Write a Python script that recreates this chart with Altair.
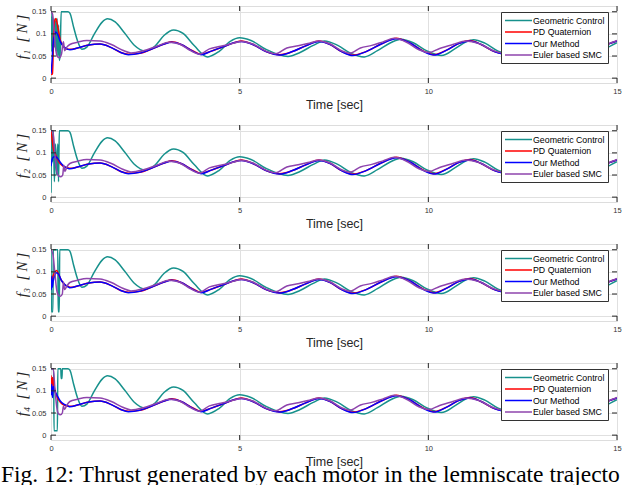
import altair as alt
import pandas as pd

SERIES = ["Geometric Control", "PD Quaternion", "Our Method", "Euler based SMC"]
COLORS = ["#17918C", "#FF0000", "#0000FF", "#8E44AD"]
X_TICKS = [0, 5, 10, 15]
Y_TICKS = [0, 0.05, 0.1, 0.15]
CAPTION = "Fig. 12: Thrust generated by each motor in the lemniscate trajectory."

# ---- steady part (t >= 0.5 s), shared by the four motors ----
geo_t = [0.5, 0.6, 0.7, 0.82, 0.95, 1.15, 1.35, 1.5, 1.7, 1.95, 2.2, 2.5, 2.75, 3.0, 3.25, 3.5, 3.8, 4.15,
         4.45, 4.75, 5.0, 5.3, 5.7, 6.28, 6.6, 6.95, 7.25, 7.6, 7.95, 8.3, 8.65, 9.0, 9.28, 9.6, 9.95,
         10.35, 10.7, 11.0, 11.2, 11.5, 11.85, 12.25, 12.6, 13.0, 13.3, 13.65, 14.0, 14.35, 14.7, 15.0]
geo_v = [0.147, 0.115, 0.085, 0.065, 0.070, 0.100, 0.126, 0.134, 0.127, 0.102, 0.075, 0.061, 0.072, 0.097,
         0.109, 0.101, 0.073, 0.048, 0.060, 0.083, 0.091, 0.085, 0.065, 0.049, 0.058, 0.074, 0.084, 0.074,
         0.056, 0.048, 0.062, 0.080, 0.088, 0.080, 0.062, 0.051, 0.066, 0.082, 0.087, 0.079, 0.061, 0.053,
         0.063, 0.080, 0.086, 0.078, 0.061, 0.054, 0.067, 0.080]

our_t = [0.5, 0.7, 1.0, 1.3, 1.6, 1.85, 2.05, 2.35, 2.7, 3.0, 3.2, 3.45, 3.75, 3.98, 4.25, 4.6, 4.85, 5.05,
         5.35, 5.7, 6.05, 6.4, 6.75, 7.1, 7.4, 7.7, 8.0, 8.35, 8.75, 9.15, 9.5, 9.85, 10.15, 10.5, 10.8,
         11.1, 11.4, 11.75, 12.05, 12.4, 12.8, 13.15, 13.5, 13.85, 14.15, 14.5, 14.8, 15.0]
our_v = [0.064, 0.068, 0.075, 0.077, 0.069, 0.058, 0.053, 0.056, 0.067, 0.077, 0.081, 0.076, 0.061, 0.053,
         0.061, 0.072, 0.080, 0.083, 0.076, 0.060, 0.052, 0.060, 0.073, 0.083, 0.076, 0.060, 0.051, 0.060,
         0.077, 0.089, 0.080, 0.061, 0.052, 0.064, 0.078, 0.084, 0.076, 0.060, 0.054, 0.062, 0.076, 0.084,
         0.076, 0.060, 0.054, 0.066, 0.078, 0.084]

pdq_t = [0.5, 0.7, 1.0, 1.3, 1.6, 1.85, 2.05, 2.35, 2.7, 3.0, 3.2, 3.45, 3.75, 3.98, 4.25, 4.6, 4.85, 5.05,
         5.35, 5.7, 6.05, 6.4, 6.75, 7.1, 7.4, 7.7, 8.0, 8.35, 8.75, 9.15, 9.5, 9.85, 10.15, 10.5, 10.8,
         11.1, 11.4, 11.75, 12.05, 12.4, 12.8, 13.15, 13.5, 13.85, 14.15, 14.5, 14.8, 15.0]
pdq_v = [0.065, 0.068, 0.075, 0.077, 0.069, 0.058, 0.054, 0.056, 0.067, 0.077, 0.082, 0.076, 0.062, 0.054,
         0.061, 0.072, 0.080, 0.084, 0.076, 0.060, 0.053, 0.060, 0.073, 0.084, 0.076, 0.060, 0.052, 0.060,
         0.077, 0.090, 0.080, 0.062, 0.053, 0.064, 0.078, 0.085, 0.076, 0.060, 0.055, 0.062, 0.076, 0.085,
         0.076, 0.060, 0.055, 0.066, 0.078, 0.084]

smc_t = [0.5, 0.7, 0.95, 1.3, 1.6, 1.9, 2.12, 2.45, 2.8, 3.13, 3.4, 3.7, 3.93, 4.2, 4.5, 4.8, 5.05, 5.35,
         5.7, 5.95, 6.25, 6.55, 6.85, 7.1, 7.4, 7.7, 7.92, 8.2, 8.5, 8.8, 9.1, 9.45, 9.75, 10.02, 10.3,
         10.65, 11.0, 11.35, 11.7, 11.95, 12.3, 12.6, 12.9, 13.15, 13.5, 13.85, 14.1, 14.4, 14.75, 15.0]
smc_v = [0.076, 0.081, 0.085, 0.084, 0.076, 0.063, 0.057, 0.062, 0.072, 0.081, 0.077, 0.062, 0.054, 0.066,
         0.072, 0.078, 0.083, 0.077, 0.061, 0.055, 0.068, 0.073, 0.079, 0.084, 0.077, 0.062, 0.056, 0.068,
         0.074, 0.082, 0.090, 0.080, 0.064, 0.058, 0.067, 0.076, 0.084, 0.078, 0.063, 0.057, 0.068, 0.074,
         0.080, 0.085, 0.077, 0.062, 0.057, 0.068, 0.077, 0.085]

# ---- start-up transients (t < 0.5 s), one set per motor ----
m1_geo_t = [0, 0.02, 0.04, 0.06, 0.08, 0.1, 0.12, 0.14, 0.16, 0.18, 0.2, 0.22, 0.24, 0.27, 0.45]
m1_geo_v = [0.15, 0.06, 0.14, 0.05, 0.135, 0.07, 0.13, 0.06, 0.135, 0.05, 0.12, 0.04, 0.05, 0.15, 0.15]
m1_pdq_t = [0, 0.04, 0.07, 0.1, 0.13, 0.18, 0.25, 0.35, 0.45]
m1_pdq_v = [0.008, 0.01, 0.1, 0.13, 0.135, 0.115, 0.085, 0.07, 0.065]
m1_our_t = [0, 0.03, 0.06, 0.1, 0.13, 0.18, 0.25, 0.35, 0.45]
m1_our_v = [0.01, 0.04, 0.08, 0.1, 0.104, 0.098, 0.082, 0.07, 0.065]
m1_smc_t = [0, 0.04, 0.08, 0.12, 0.16, 0.22, 0.28, 0.31, 0.33, 0.36, 0.42]
m1_smc_v = [0.15, 0.145, 0.11, 0.07, 0.05, 0.046, 0.055, 0.075, 0.082, 0.062, 0.07]

m2_geo_t = [0, 0.02, 0.04, 0.06, 0.09, 0.12, 0.15, 0.18, 0.2, 0.22, 0.45]
m2_geo_v = [0.01, 0.15, 0.08, 0.15, 0.035, 0.12, 0.05, 0.12, 0.035, 0.15, 0.15]
m2_pdq_t = [0, 0.03, 0.06, 0.1, 0.15, 0.22, 0.32, 0.45]
m2_pdq_v = [0.15, 0.13, 0.11, 0.1, 0.09, 0.078, 0.07, 0.066]
m2_our_t = [0, 0.03, 0.07, 0.12, 0.18, 0.26, 0.35, 0.45]
m2_our_v = [0.07, 0.085, 0.091, 0.092, 0.087, 0.077, 0.069, 0.065]
m2_smc_t = [0, 0.05, 0.1, 0.15, 0.2, 0.26, 0.31, 0.34, 0.37, 0.42]
m2_smc_v = [0.15, 0.15, 0.1, 0.06, 0.048, 0.046, 0.05, 0.072, 0.058, 0.068]

m3_geo_t = [0, 0.01, 0.05, 0.06, 0.18, 0.19, 0.22, 0.23, 0.45]
m3_geo_v = [0.15, 0.01, 0.01, 0.15, 0.15, 0.01, 0.01, 0.15, 0.15]
m3_pdq_t = [0, 0.05, 0.1, 0.15, 0.2, 0.28, 0.38, 0.48]
m3_pdq_v = [0.075, 0.09, 0.1, 0.103, 0.095, 0.08, 0.07, 0.066]
m3_our_t = [0, 0.01, 0.02, 0.03, 0.06, 0.1, 0.15, 0.2, 0.28, 0.38, 0.48]
m3_our_v = [0.08, 0.06, 0.09, 0.065, 0.08, 0.092, 0.098, 0.095, 0.08, 0.07, 0.065]
m3_smc_t = [0, 0.05, 0.1, 0.15, 0.2, 0.25, 0.3, 0.33, 0.36, 0.42]
m3_smc_v = [0.15, 0.14, 0.1, 0.06, 0.047, 0.045, 0.05, 0.077, 0.06, 0.068]

m4_geo_t = [0, 0.07, 0.08, 0.17, 0.18, 0.26, 0.27, 0.29, 0.3, 0.45]
m4_geo_v = [0.15, 0.15, 0.01, 0.01, 0.15, 0.15, 0.128, 0.128, 0.15, 0.15]
m4_pdq_t = [0, 0.02, 0.04, 0.07, 0.12, 0.2, 0.3, 0.42]
m4_pdq_v = [0.135, 0.1, 0.13, 0.115, 0.095, 0.08, 0.07, 0.066]
m4_our_t = [0, 0.02, 0.04, 0.06, 0.1, 0.16, 0.24, 0.34, 0.45]
m4_our_v = [0.09, 0.115, 0.085, 0.11, 0.1, 0.09, 0.078, 0.07, 0.066]
m4_smc_t = [0, 0.06, 0.1, 0.15, 0.2, 0.25, 0.3, 0.33, 0.36, 0.42]
m4_smc_v = [0.15, 0.15, 0.11, 0.065, 0.048, 0.046, 0.05, 0.065, 0.058, 0.068]

steady = {
    "Geometric Control": (geo_t, geo_v),
    "PD Quaternion": (pdq_t, pdq_v),
    "Our Method": (our_t, our_v),
    "Euler based SMC": (smc_t, smc_v),
}
transients = {
    1: {"Geometric Control": (m1_geo_t, m1_geo_v), "PD Quaternion": (m1_pdq_t, m1_pdq_v),
        "Our Method": (m1_our_t, m1_our_v), "Euler based SMC": (m1_smc_t, m1_smc_v)},
    2: {"Geometric Control": (m2_geo_t, m2_geo_v), "PD Quaternion": (m2_pdq_t, m2_pdq_v),
        "Our Method": (m2_our_t, m2_our_v), "Euler based SMC": (m2_smc_t, m2_smc_v)},
    3: {"Geometric Control": (m3_geo_t, m3_geo_v), "PD Quaternion": (m3_pdq_t, m3_pdq_v),
        "Our Method": (m3_our_t, m3_our_v), "Euler based SMC": (m3_smc_t, m3_smc_v)},
    4: {"Geometric Control": (m4_geo_t, m4_geo_v), "PD Quaternion": (m4_pdq_t, m4_pdq_v),
        "Our Method": (m4_our_t, m4_our_v), "Euler based SMC": (m4_smc_t, m4_smc_v)},
}

rows = []
for m in range(1, 5):
    for s in SERIES:
        tt, vv = transients[m][s]
        st, sv = steady[s]
        for i, (t, v) in enumerate(zip(tt + st, vv + sv)):
            rows.append({"motor": m, "series": s, "t": t, "v": v, "i": i})
df = pd.DataFrame(rows)

xtick_df = pd.DataFrame({"t": X_TICKS})
ytick_df = pd.DataFrame({"v": Y_TICKS})
cap_df = pd.DataFrame({"c": [CAPTION]})

W, H = 566, 77
FRAME = "#262626"
SUBS = {1: "\u2081", 2: "\u2082", 3: "\u2083", 4: "\u2084"}

x_scale = alt.Scale(domain=[0, 15], nice=False, zero=False)
y_scale = alt.Scale(domain=[-0.011, 0.163], nice=False, zero=False)
color_scale = alt.Scale(domain=SERIES, range=COLORS)


def x_enc():
    return alt.X("t:Q", scale=x_scale, axis=alt.Axis(
        values=X_TICKS, format="~g", title="Time [sec]", grid=True, gridColor="#e0e0e0", ticks=False,
        domain=False, labelOverlap=False,
        labelFont="Liberation Sans", labelFontSize=7.5, labelColor="#333333", labelPadding=4,
        labelFlush=False, titleFont="Liberation Sans", titleFontSize=12.5, titleFontWeight="normal",
        titleColor="#262626", titlePadding=4))


def y_enc(m):
    return alt.Y("v:Q", scale=y_scale, axis=alt.Axis(
        values=Y_TICKS, format=".2~f", title=f"f{SUBS[m]}\u2002[\u2009N\u2009]", grid=True,
        gridColor="#e0e0e0", ticks=False, domain=False, labelOverlap=False,
        labelFont="Liberation Sans", labelFontSize=7.5, labelColor="#333333",
        labelPadding=5, minExtent=19, maxExtent=19, titleFont="Liberation Serif", titleFontStyle="italic",
        titleFontSize=15, titleFontWeight="normal", titleColor="#262626", titlePadding=3,
        titleY=H / 2 - 8))


def panel(m):
    d = df[df.motor == m]
    layers = []
    for s in SERIES:
        layers.append(
            alt.Chart(d).transform_filter(alt.datum.series == s)
            .mark_line(strokeWidth=1.5, interpolate="monotone", clip=True)
            .encode(
                x=x_enc(), y=y_enc(m),
                order="i:Q",
                color=alt.Color("series:N", scale=color_scale, legend=alt.Legend(
                    orient="none", legendX=450, legendY=6, title=None, fillColor="white",
                    strokeColor="#333333", padding=3, symbolType="M-3,0H3", symbolSize=81,
                    symbolStrokeWidth=1.5, symbolOffset=9, labelFont="Liberation Sans",
                    labelFontSize=8.8, labelColor="black", rowPadding=0.5, labelOffset=9)),
            )
        )
    tb = alt.Chart(xtick_df).mark_rule(color=FRAME, strokeWidth=1).encode(
        x=x_enc(), y=alt.value(H), y2=alt.value(H - 5))
    tt = alt.Chart(xtick_df).mark_rule(color=FRAME, strokeWidth=1).encode(
        x=x_enc(), y=alt.value(0), y2=alt.value(5))
    tl = alt.Chart(ytick_df).mark_rule(color=FRAME, strokeWidth=1).encode(
        y=y_enc(m), x=alt.value(0), x2=alt.value(5))
    tr = alt.Chart(ytick_df).mark_rule(color=FRAME, strokeWidth=1).encode(
        y=y_enc(m), x=alt.value(W), x2=alt.value(W - 5))
    parts = layers + [tb, tt, tl, tr]
    if m == 4:
        parts.append(
            alt.Chart(cap_df).mark_text(align="left", baseline="alphabetic", font="Liberation Serif",
                                        fontSize=23.5, color="black", limit=624, ellipsis="\u200b")
            .encode(text="c:N", x=alt.value(-50), y=alt.value(H + 42))
        )
    return alt.layer(*parts).properties(width=W, height=H)


chart = alt.vconcat(*[panel(m) for m in range(1, 5)], spacing=12).resolve_scale(
    color="independent"
).properties(
    padding={"top": 5, "left": 0, "right": 0, "bottom": 0},
).configure_view(stroke=FRAME, strokeWidth=1).configure(background="white")

chart.save("out.html", embed_options={"renderer": "svg", "actions": False})
